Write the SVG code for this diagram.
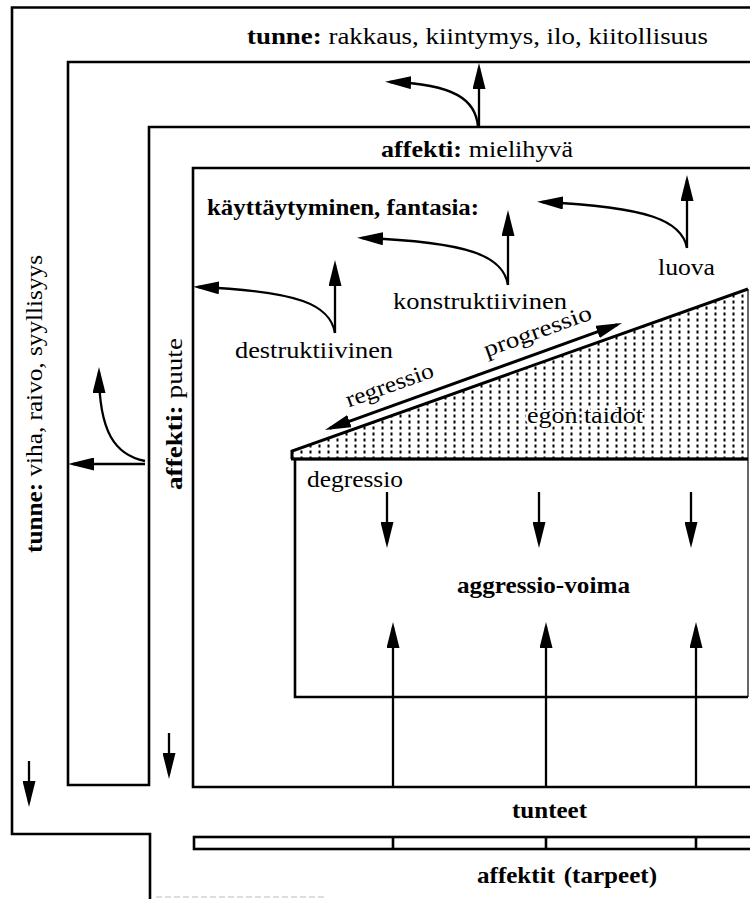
<svg xmlns="http://www.w3.org/2000/svg" width="750" height="899" viewBox="0 0 750 899">
  <defs>
    <!-- stipple used for the ego-skills wedge -->
    <pattern id="dots" width="9" height="6" patternUnits="userSpaceOnUse">
      <rect x="3.5" y="0.5" width="2" height="3" fill="#000"/>
    </pattern>
    <marker id="ah" viewBox="0 0 26 13" refX="21" refY="6.5" markerWidth="26" markerHeight="13" markerUnits="userSpaceOnUse" orient="auto-start-reverse">
      <path d="M0,0 L26,6.5 L0,13 Z" fill="#000"/>
    </marker>
  </defs>
  <style>
    .frame{fill:none;stroke:#000;stroke-width:2.6}
    .thin{fill:none;stroke:#000;stroke-width:1.2}
    .arr{fill:none;stroke:#000;stroke-width:2.3;marker-end:url(#ah)}
    .dbl{fill:none;stroke:#000;stroke-width:3;marker-start:url(#ah);marker-end:url(#ah)}
    text{font-family:"Liberation Serif","DejaVu Serif",serif;font-size:23px;fill:#000}
    .b{font-weight:bold}
    .halo{stroke:#fff;stroke-width:4;paint-order:stroke;stroke-linejoin:round}
  </style>

  <rect x="0" y="0" width="750" height="899" fill="#fff"/>

  <!-- outer band: tunne -->
  <g id="tunne-frame">
    <path class="frame" d="M750,7.5 H12 V834 H150 V899"/>
    <path d="M156,897 H326" stroke="#bbb" stroke-width="1.2" stroke-dasharray="6 3" fill="none"/>
    <text x="247" y="44" textLength="461" lengthAdjust="spacingAndGlyphs"><tspan class="b">tunne:</tspan> rakkaus, kiintymys, ilo, kiitollisuus</text>
    <text transform="translate(42,553) rotate(-90)" textLength="298" lengthAdjust="spacingAndGlyphs"><tspan class="b">tunne:</tspan> viha, raivo, syyllisyys</text>
  </g>

  <!-- wall between tunne band and affekti band -->
  <g id="affekti-frame">
    <path class="frame" d="M750,62 H68 V785 H149 V127 H750"/>
    <text x="381" y="157" textLength="192" lengthAdjust="spacingAndGlyphs"><tspan class="b">affekti:</tspan><tspan dx="6">mielihyvä</tspan></text>
    <text transform="translate(182,490) rotate(-90)" textLength="152" lengthAdjust="spacingAndGlyphs"><tspan class="b">affekti:</tspan><tspan dx="6">puute</tspan></text>
  </g>

  <!-- behaviour / fantasy field -->
  <g id="behaviour-frame">
    <path class="frame" d="M750,168 H193 V787 H750"/>
    <text class="b" x="207" y="215" textLength="272" lengthAdjust="spacingAndGlyphs">käyttäytyminen, fantasia:</text>
    <text x="658" y="275" textLength="57" lengthAdjust="spacingAndGlyphs">luova</text>
    <text x="393" y="309" textLength="174" lengthAdjust="spacingAndGlyphs">konstruktiivinen</text>
    <text x="235" y="358" textLength="158" lengthAdjust="spacingAndGlyphs">destruktiivinen</text>
  </g>

  <!-- ego skills wedge -->
  <g id="ego-skills">
    <polygon points="292,451 748,289 748,459 292,459" fill="url(#dots)"/>
    <path d="M292,459 V451 L748,289" fill="none" stroke="#000" stroke-width="3"/>
    <path d="M291,459 H748" fill="none" stroke="#000" stroke-width="3"/>
    <path class="thin" d="M748,289 V697"/>
    <text class="halo" x="527" y="423" textLength="116" lengthAdjust="spacingAndGlyphs">egon taidot</text>
    <text transform="translate(392,392) rotate(-19.8)" text-anchor="middle" textLength="92" lengthAdjust="spacingAndGlyphs">regressio</text>
    <text transform="translate(540,338) rotate(-19.8)" text-anchor="middle" textLength="113" lengthAdjust="spacingAndGlyphs">progressio</text>
  </g>

  <!-- aggression force box -->
  <g id="aggressio-box">
    <path class="frame" d="M748,459 H295 V697 H748"/>
    <text x="307" y="487" textLength="96" lengthAdjust="spacingAndGlyphs">degressio</text>
    <text class="b" x="457" y="593" textLength="173" lengthAdjust="spacingAndGlyphs">aggressio-voima</text>
  </g>

  <!-- feelings / needs base -->
  <g id="tunteet">
    <text class="b" x="512" y="818" textLength="75" lengthAdjust="spacingAndGlyphs">tunteet</text>
  </g>
  <g id="affektit-bar">
    <rect class="frame" x="194" y="837" width="570" height="12"/>
    <path class="frame" d="M393,837 V849 M546,837 V849 M696,837 V849"/>
    <text class="b" x="477" y="883" textLength="180" lengthAdjust="spacingAndGlyphs">affektit<tspan dx="8">(tarpeet)</tspan></text>
  </g>

  <g id="connectors">
    <!-- affekti to tunne (top) -->
    <path class="arr" d="M479,127 V68"/>
    <path class="arr" d="M478,127 C476,100 455,84 390,82"/>
    <!-- affekti to tunne (left) -->
    <path class="arr" d="M145,464 H73"/>
    <path class="arr" d="M145,461 C115,455 99,432 99,372"/>
    <!-- downward flow in the bands -->
    <path class="arr" d="M29,761 V802"/>
    <path class="arr" d="M169,733 V774"/>
    <!-- behaviour arrows -->
    <path class="arr" d="M335,333 V265"/>
    <path class="arr" d="M335,333 C330,305 300,291 198,287"/>
    <path class="arr" d="M508,285 V215"/>
    <path class="arr" d="M508,285 C503,256 470,242 362,238"/>
    <path class="arr" d="M687,248 V180"/>
    <path class="arr" d="M687,248 C682,221 650,207 542,202"/>
    <!-- regressio / progressio -->
    <path class="dbl" d="M329.7,428.3 L617.3,324.7"/>
    <!-- degressio -->
    <path class="arr" d="M387,492 V543"/>
    <path class="arr" d="M539,492 V543"/>
    <path class="arr" d="M691,492 V543"/>
    <!-- tunteet up into aggression -->
    <path class="arr" d="M393,787 V627"/>
    <path class="arr" d="M546,787 V627"/>
    <path class="arr" d="M696,787 V627"/>
  </g>
</svg>
